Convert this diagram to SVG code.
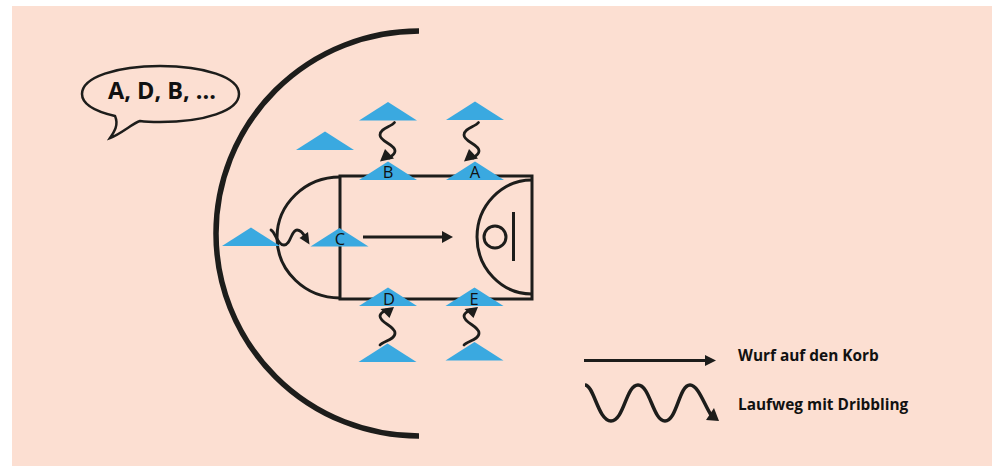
<svg xmlns="http://www.w3.org/2000/svg" width="992" height="467" viewBox="0 0 992 467">
<style>
.l{fill:none;stroke:#1d1d1b;stroke-width:3}
.w{fill:none;stroke:#1d1d1b;stroke-width:2.800;stroke-linecap:round}
.h{fill:#1d1d1b}
.p{fill:#3aa9e0}
.t{font-family:"Open Sans","Liberation Sans",sans-serif;fill:#111;font-size:16.500px;text-anchor:middle}
.b{font-family:"Open Sans","Liberation Sans",sans-serif;fill:#111;font-weight:700;font-size:15.400px}
</style>
<defs><polygon id="tri" class="p" points="0,-18.5 29,0 -29,0"/></defs>
<rect width="992" height="467" fill="#fff"/>
<rect x="12" y="6" width="980" height="460" fill="#fcdfd2"/>
<g id="court">
<path d="M419 31A203 202.500 0 0 0 419 436" fill="none" stroke="#1d1d1b" stroke-width="5.500"/>
<rect class="l" x="340" y="176" width="192" height="123"/>
<path class="l" d="M340 177A63 60.500 0 0 0 340 298"/>
<path class="l" d="M532 180A55 57 0 0 0 532 294"/>
<circle class="l" cx="495" cy="237" r="11"/>
<path class="l" d="M513.500 212V261"/>
</g>
<g id="players">
<g id="p-top-b"><use href="#tri" x="388" y="120.500"/></g>
<g id="p-top-a"><use href="#tri" x="475" y="120"/></g>
<g id="p-free"><use href="#tri" x="325" y="150"/></g>
<g id="p-left"><use href="#tri" x="251" y="246"/></g>
<g id="p-bot-d"><use href="#tri" x="387.500" y="362"/></g>
<g id="p-bot-e"><use href="#tri" x="474.500" y="360.500"/></g>
<g id="p-b"><use href="#tri" x="388" y="180"/><text class="t" x="388" y="178">B</text></g>
<g id="p-a"><use href="#tri" x="475" y="180"/><text class="t" x="475" y="178">A</text></g>
<g id="p-c"><use href="#tri" x="339.500" y="246.500"/><text class="t" x="340" y="245">C</text></g>
<g id="p-d"><use href="#tri" x="388" y="306"/><text class="t" x="389" y="305">D</text></g>
<g id="p-e"><use href="#tri" x="474.500" y="306"/><text class="t" x="474" y="305">E</text></g>
</g>
<g id="connectors">
<path class="l" d="M363 237H444"/><path class="h" d="M442 231L453 237L442 243Z"/>
<path class="w" d="M394.500 122.500C391 127 380 128 380 135C380 142 395 144 395 151C395 154 392 156 389 158"/><path class="h" d="M380 161.500L394 158.500L385 149Z"/>
<path class="w" d="M478.500 122.500C475 127 464 128 464 135C464 142 479 144 479 151C479 154 476 156 473 158"/><path class="h" d="M464 161.500L478 158.500L469 149Z"/>
<path class="w" d="M380 345C383 341 395 340 395 333C395 326 380 323 380 316C380 313 383 312 386 310"/><path class="h" d="M394 307L380.500 309L389.500 318Z"/>
<path class="w" d="M464 345C467 341 479 340 479 333C479 326 464 323 464 316C464 313 467 312 470 310"/><path class="h" d="M478 307L464.500 309L473.500 318Z"/>
<path class="w" d="M271 230C276 233 277 245 284 245C291 245 291 230 297 230C301 230 303 233 305 237"/><path class="h" d="M309.500 244.500L308 232L299.500 238Z"/>
<path class="l" d="M584 360.500H708"/><path class="h" d="M705 355L716 360.500L705 366Z"/>
<path fill="none" stroke="#1d1d1b" stroke-width="3.500" d="M585 385C594 385 598 421 611 421C624 421 626 385 638 385C650 385 653 421 665 421C677 421 679 385 690 385C698 385 704 404 711 415"/><path class="h" d="M719 421L706 420L714 408Z"/>
</g>
<g id="bubble">
<path d="M115 116C89 110 82 102 82 94C82 77 117 66 160 66C204 66 239 77 239 94C239 111 204 122 160 122C153 122 147 122 140 121C133 123 121 134 110 138C114 132 119 125 115 116Z" fill="none" stroke="#1d1d1b" stroke-width="2.500"/>
<text x="162" y="99" font-family="Open Sans, Liberation Sans, sans-serif" font-weight="700" font-size="23.500" fill="#111" text-anchor="middle">A, D, B, ...</text>
</g>
<g id="legend">
<text class="b" x="738" y="361">Wurf auf den Korb</text>
<text class="b" x="738" y="410">Laufweg mit Dribbling</text>
</g>
</svg>
